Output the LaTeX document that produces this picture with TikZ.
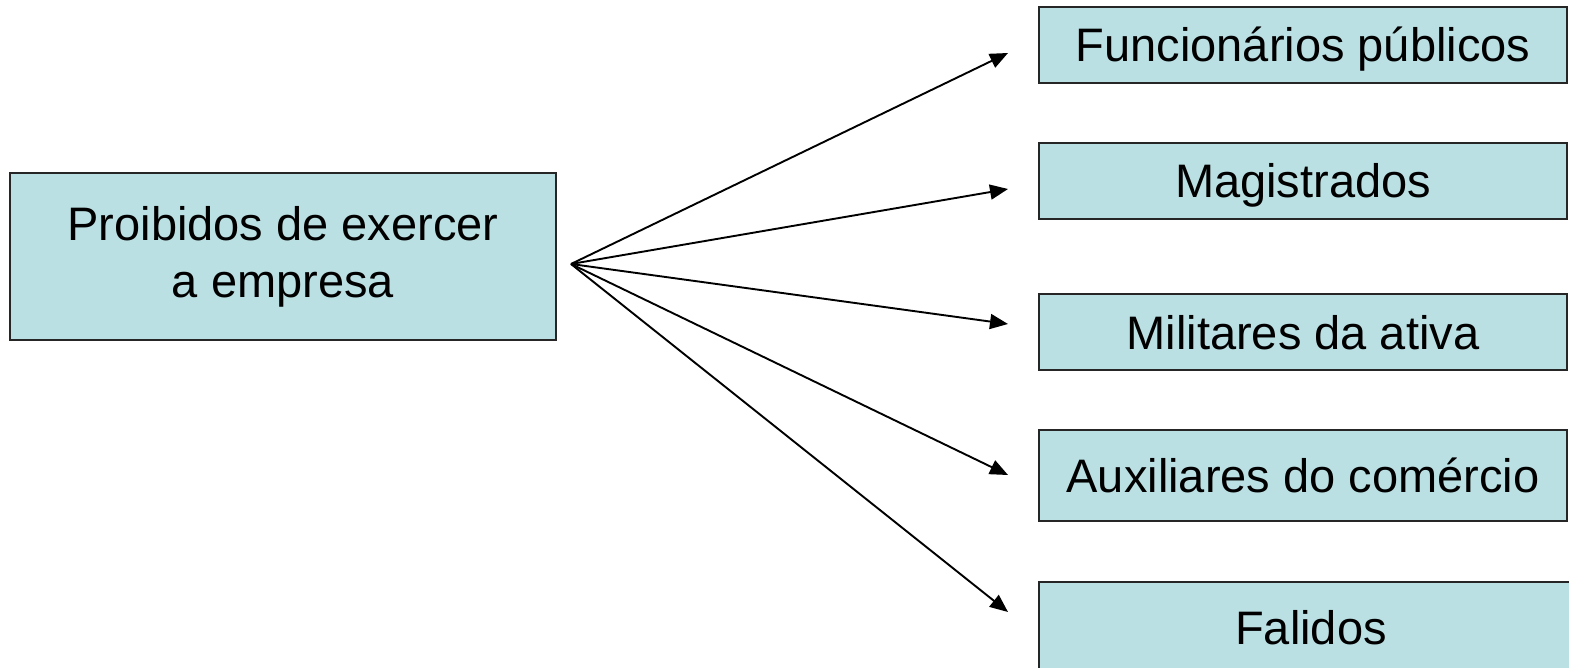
\documentclass[tikz,border=0pt]{standalone}
\usepackage{fontspec}
\setmainfont{Liberation Sans}
\usetikzlibrary{arrows.meta}
\definecolor{boxfill}{RGB}{187,224,227}
\tikzset{
  basebox/.style={draw=black!85, line width=1.5pt, fill=boxfill, inner sep=0pt,
    font=\fontsize{47}{57}\selectfont, align=center},
  itembox/.style={basebox, text height=34pt, text depth=0pt},
  conn/.style={line width=1.9pt, -{Triangle[length=18pt,width=15pt]}}
}
\begin{document}
\begin{tikzpicture}[x=1pt,y=-1pt]
\useasboundingbox (0,0) rectangle (1569,668);
\clip (0,0) rectangle (1569,668);
\node[basebox, minimum width=546pt, minimum height=167pt] (src) at (283,256.5) {Proibidos de exercer\\a empresa};
\node[itembox, minimum width=528pt, minimum height=76pt] (b1) at (1303,45) {Funcionários públicos};
\node[itembox, minimum width=528pt, minimum height=76pt] (b2) at (1303,181) {Magistrados};
\node[itembox, minimum width=528pt, minimum height=76pt] (b3) at (1303,332) {Militares da ativa};
\node[itembox, minimum width=528pt, minimum height=91pt] (b4) at (1303,475.5) {Auxiliares do comércio};
\node[itembox, minimum width=544pt, minimum height=91pt] (b5) at (1311,627.5) {Falidos};
\coordinate (fan) at (571,264);
\coordinate (t1) at (1008,53);
\coordinate (t2) at (1008,189);
\coordinate (t3) at (1008,324);
\coordinate (t4) at (1008,475);
\coordinate (t5) at (1008,612);
\draw[conn] (fan) -- (t1);
\draw[conn] (fan) -- (t2);
\draw[conn] (fan) -- (t3);
\draw[conn] (fan) -- (t4);
\draw[conn] (fan) -- (t5);
\end{tikzpicture}
\end{document}
